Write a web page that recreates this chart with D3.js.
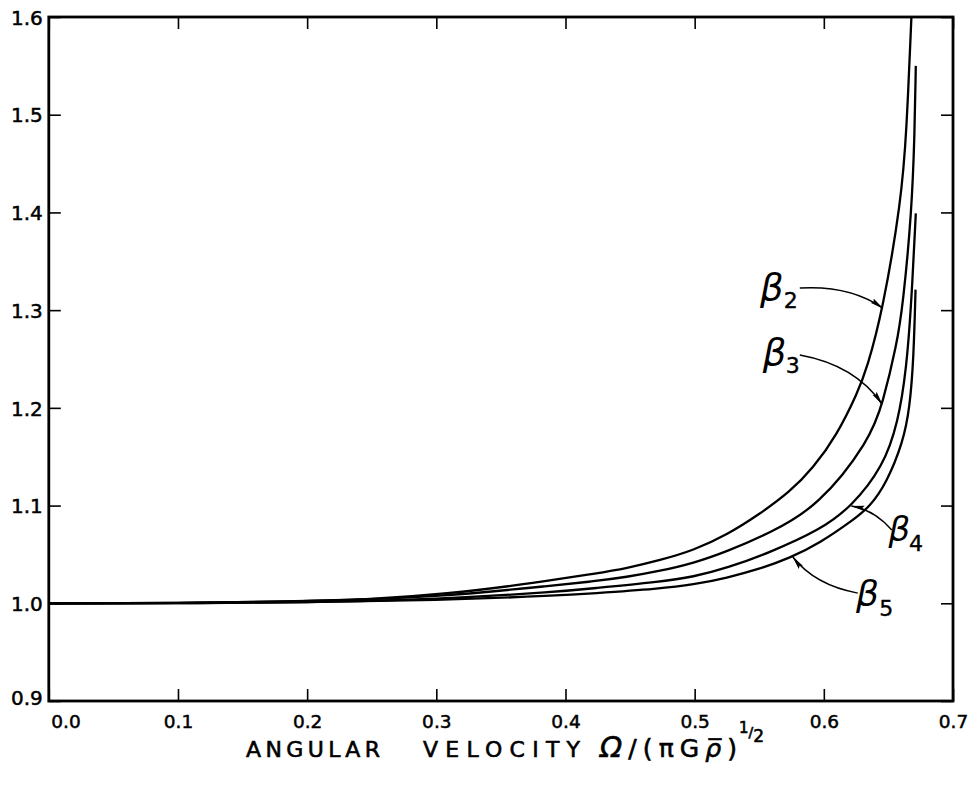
<!DOCTYPE html>
<html>
<head>
<meta charset="utf-8">
<script src="https://cdn.jsdelivr.net/npm/d3@7"></script>
<style>
  html, body { margin: 0; padding: 0; background: #fff; }
  svg { display: block; }
  text { font-family: "DejaVu Sans", sans-serif; fill: #000; }
</style>
</head>
<body>
<svg id="chart" width="972" height="785"></svg>
<script>
// ---------- data ----------
const xTicks = [0.0, 0.1, 0.2, 0.3, 0.4, 0.5, 0.6, 0.7];
const xTickLabels = ["0.0", "0.1", "0.2", "0.3", "0.4", "0.5", "0.6", "0.7"];
const yTicks = [0.9, 1.0, 1.1, 1.2, 1.3, 1.4, 1.5, 1.6];
const yTickLabels = ["0.9", "1.0", "1.1", "1.2", "1.3", "1.4", "1.5", "1.6"];

const omegaB2 = [0.00, 0.10, 0.20, 0.25, 0.31, 0.36, 0.396, 0.421, 0.448, 0.473, 0.499, 0.525, 0.550, 0.5737, 0.5915, 0.6101, 0.6263, 0.6333, 0.6457, 0.660, 0.664, 0.6678];
const valB2   = [1.000, 1.000, 1.002, 1.004, 1.010, 1.018, 1.025, 1.030, 1.036, 1.044, 1.054, 1.070, 1.091, 1.114, 1.138, 1.172, 1.216, 1.240, 1.300, 1.413, 1.481, 1.600];

const omegaB3 = [0.00, 0.10, 0.20, 0.30, 0.396, 0.419, 0.448, 0.473, 0.499, 0.525, 0.5582, 0.5954, 0.6356, 0.6457, 0.6565, 0.6612, 0.668, 0.6703, 0.6712];
const valB3   = [1.000, 1.000, 1.002, 1.006, 1.019, 1.022, 1.027, 1.033, 1.041, 1.053, 1.072, 1.0985, 1.167, 1.205, 1.265, 1.305, 1.400, 1.480, 1.550];

const omegaB4 = [0.00, 0.10, 0.20, 0.30, 0.396, 0.419, 0.473, 0.499, 0.525, 0.5582, 0.597, 0.6214, 0.6459, 0.6575, 0.664, 0.6679, 0.6712];
const valB4   = [1.000, 1.000, 1.001, 1.004, 1.012, 1.015, 1.022, 1.027, 1.036, 1.052, 1.075, 1.0988, 1.1397, 1.185, 1.240, 1.310, 1.399];

const omegaB5 = [0.00, 0.10, 0.20, 0.30, 0.396, 0.419, 0.473, 0.499, 0.525, 0.550, 0.5737, 0.5969, 0.6227, 0.6356, 0.6485, 0.6614, 0.6665, 0.6695, 0.671];
const valB5   = [1.000, 1.000, 1.001, 1.003, 1.008, 1.010, 1.015, 1.019, 1.026, 1.035, 1.0463, 1.0616, 1.0852, 1.0988, 1.123, 1.165, 1.200, 1.250, 1.321];

// annotation placement (data units)
const annotations = [
  { sub: "2", lx: 0.5505, ly: 1.3103, sx: 0.5690, sy: 1.3022, a0: [0.5814, 1.3226], ac: [0.6201, 1.3257], a1: [0.6456, 1.3021], fs: 37 },
  { sub: "3", lx: 0.5528, ly: 1.2438, sx: 0.5705, sy: 1.2356, a0: [0.5814, 1.2540], ac: [0.6240, 1.2438], a1: [0.6450, 1.2040], fs: 37 },
  { sub: "4", lx: 0.6500, ly: 1.0637, sx: 0.6660, sy: 1.0534, a0: [0.6526, 1.0749], ac: [0.6395, 1.0954], a1: [0.6214, 1.0995], fs: 34 },
  { sub: "5", lx: 0.6250, ly: 0.9971, sx: 0.6430, sy: 0.9869, a0: [0.6263, 1.0104], ac: [0.5930, 1.0186], a1: [0.5760, 1.0473], fs: 36 }
];

// ---------- layout ----------
const svg = d3.select("#chart");
const L = 48.8, R = 953, T = 17, B = 701;
const x = d3.scaleLinear().domain([0, 0.7]).range([L, R]);
const y = d3.scaleLinear().domain([0.9, 1.6]).range([B, T]);

svg.append("rect").attr("width", 972).attr("height", 785).attr("fill", "#fff");

const defs = svg.append("defs");
defs.append("marker")
  .attr("id", "ah")
  .attr("markerUnits", "userSpaceOnUse")
  .attr("viewBox", "0 0 14 6")
  .attr("markerWidth", 14).attr("markerHeight", 6)
  .attr("refX", 13).attr("refY", 3)
  .attr("orient", "auto")
  .append("path").attr("d", "M0,0.4 L14,3 L0,5.6 L2,3 z").attr("fill", "#000");

// ---------- axes ----------
const tickLen = 12;
const gB = svg.append("g").attr("transform", `translate(0,${B})`)
  .call(d3.axisBottom(x).tickValues(xTicks).tickSize(-tickLen)
        .tickFormat((d, i) => xTickLabels[i]));
const gL = svg.append("g").attr("transform", `translate(${L},0)`)
  .call(d3.axisLeft(y).tickValues(yTicks).tickSize(-tickLen)
        .tickFormat((d, i) => yTickLabels[i]));
const gT = svg.append("g").attr("transform", `translate(0,${T})`)
  .call(d3.axisTop(x).tickValues(xTicks).tickSize(-tickLen).tickFormat(""));
const gR = svg.append("g").attr("transform", `translate(${R},0)`)
  .call(d3.axisRight(y).tickValues(yTicks).tickSize(-tickLen).tickFormat(""));

[gB, gL, gT, gR].forEach(g => {
  g.select(".domain").remove();
  g.selectAll(".tick line").attr("stroke", "#000").attr("stroke-width", 1.6);
});

gB.selectAll(".tick text")
  .attr("font-family", "DejaVu Sans").attr("font-size", 18.5)
  .attr("stroke", "#000").attr("stroke-width", 0.5)
  .attr("y", 27).attr("dy", 0)
  .attr("text-anchor", (d, i) => i === 0 ? "start" : "middle")
  .attr("x", (d, i) => i === 0 ? 2 : 0);

gL.selectAll(".tick text")
  .attr("font-family", "DejaVu Sans").attr("font-size", 20)
  .attr("stroke", "#000").attr("stroke-width", 0.5)
  .attr("x", -6).attr("dy", (d, i) => i === 0 ? "0.15em" : "0.36em");

// frame
svg.append("rect")
  .attr("x", L).attr("y", T).attr("width", R - L).attr("height", B - T)
  .attr("fill", "none").attr("stroke", "#000").attr("stroke-width", 2.8);

// ---------- curves ----------
const seriesData = [
  d3.zip(omegaB2, valB2),
  d3.zip(omegaB3, valB3),
  d3.zip(omegaB4, valB4),
  d3.zip(omegaB5, valB5)
];
const line = d3.line()
  .x(d => x(d[0])).y(d => y(d[1]))
  .curve(d3.curveBasis);

svg.append("g").selectAll("path")
  .data(seriesData)
  .join("path")
  .attr("d", line)
  .attr("fill", "none")
  .attr("stroke", "#000")
  .attr("stroke-width", 2.3)
  .attr("stroke-linejoin", "round");

// ---------- annotations ----------
const ag = svg.append("g");
annotations.forEach(a => {
  const p = d3.path();
  p.moveTo(x(a.a0[0]), y(a.a0[1]));
  p.quadraticCurveTo(x(a.ac[0]), y(a.ac[1]), x(a.a1[0]), y(a.a1[1]));
  ag.append("path").attr("d", p.toString())
    .attr("fill", "none").attr("stroke", "#000").attr("stroke-width", 1.5)
    .attr("marker-end", "url(#ah)");
  ag.append("text")
    .attr("x", x(a.lx)).attr("y", y(a.ly))
    .attr("font-family", "DejaVu Sans").attr("font-style", "italic")
    .attr("font-size", a.fs)
    .text("\u03B2");
  ag.append("text")
    .attr("x", x(a.sx)).attr("y", y(a.sy))
    .attr("font-family", "DejaVu Sans").attr("font-size", 22)
    .attr("stroke", "#000").attr("stroke-width", 0.4)
    .text(a.sub);
});

// ---------- axis title ----------
const tg = svg.append("g").attr("stroke", "#000").attr("stroke-width", 0.6);
tg.append("text").attr("x", 246).attr("y", 757).attr("font-size", 22)
  .attr("textLength", 134).attr("lengthAdjust", "spacing").text("ANGULAR");
tg.append("text").attr("x", 423).attr("y", 757).attr("font-size", 22)
  .attr("textLength", 157).attr("lengthAdjust", "spacing").text("VELOCITY");
const m = tg.append("text").attr("x", 600).attr("y", 757).attr("font-size", 25)
  .attr("textLength", 137).attr("lengthAdjust", "spacing");
m.append("tspan").attr("font-style", "italic").attr("font-size", 29).text("\u03A9");
m.append("tspan").text("/(\u03C0G");
m.append("tspan").attr("font-style", "italic").text("\u03C1\u0305");
m.append("tspan").text(")");
const sup = tg.append("text").attr("x", 739).attr("y", 733).attr("font-size", 15);
sup.append("tspan").text("1");
sup.append("tspan").attr("dy", 4).attr("font-size", 14).text("/");
sup.append("tspan").attr("dy", 5).attr("font-size", 17).text("2");
</script>
</body>
</html>
